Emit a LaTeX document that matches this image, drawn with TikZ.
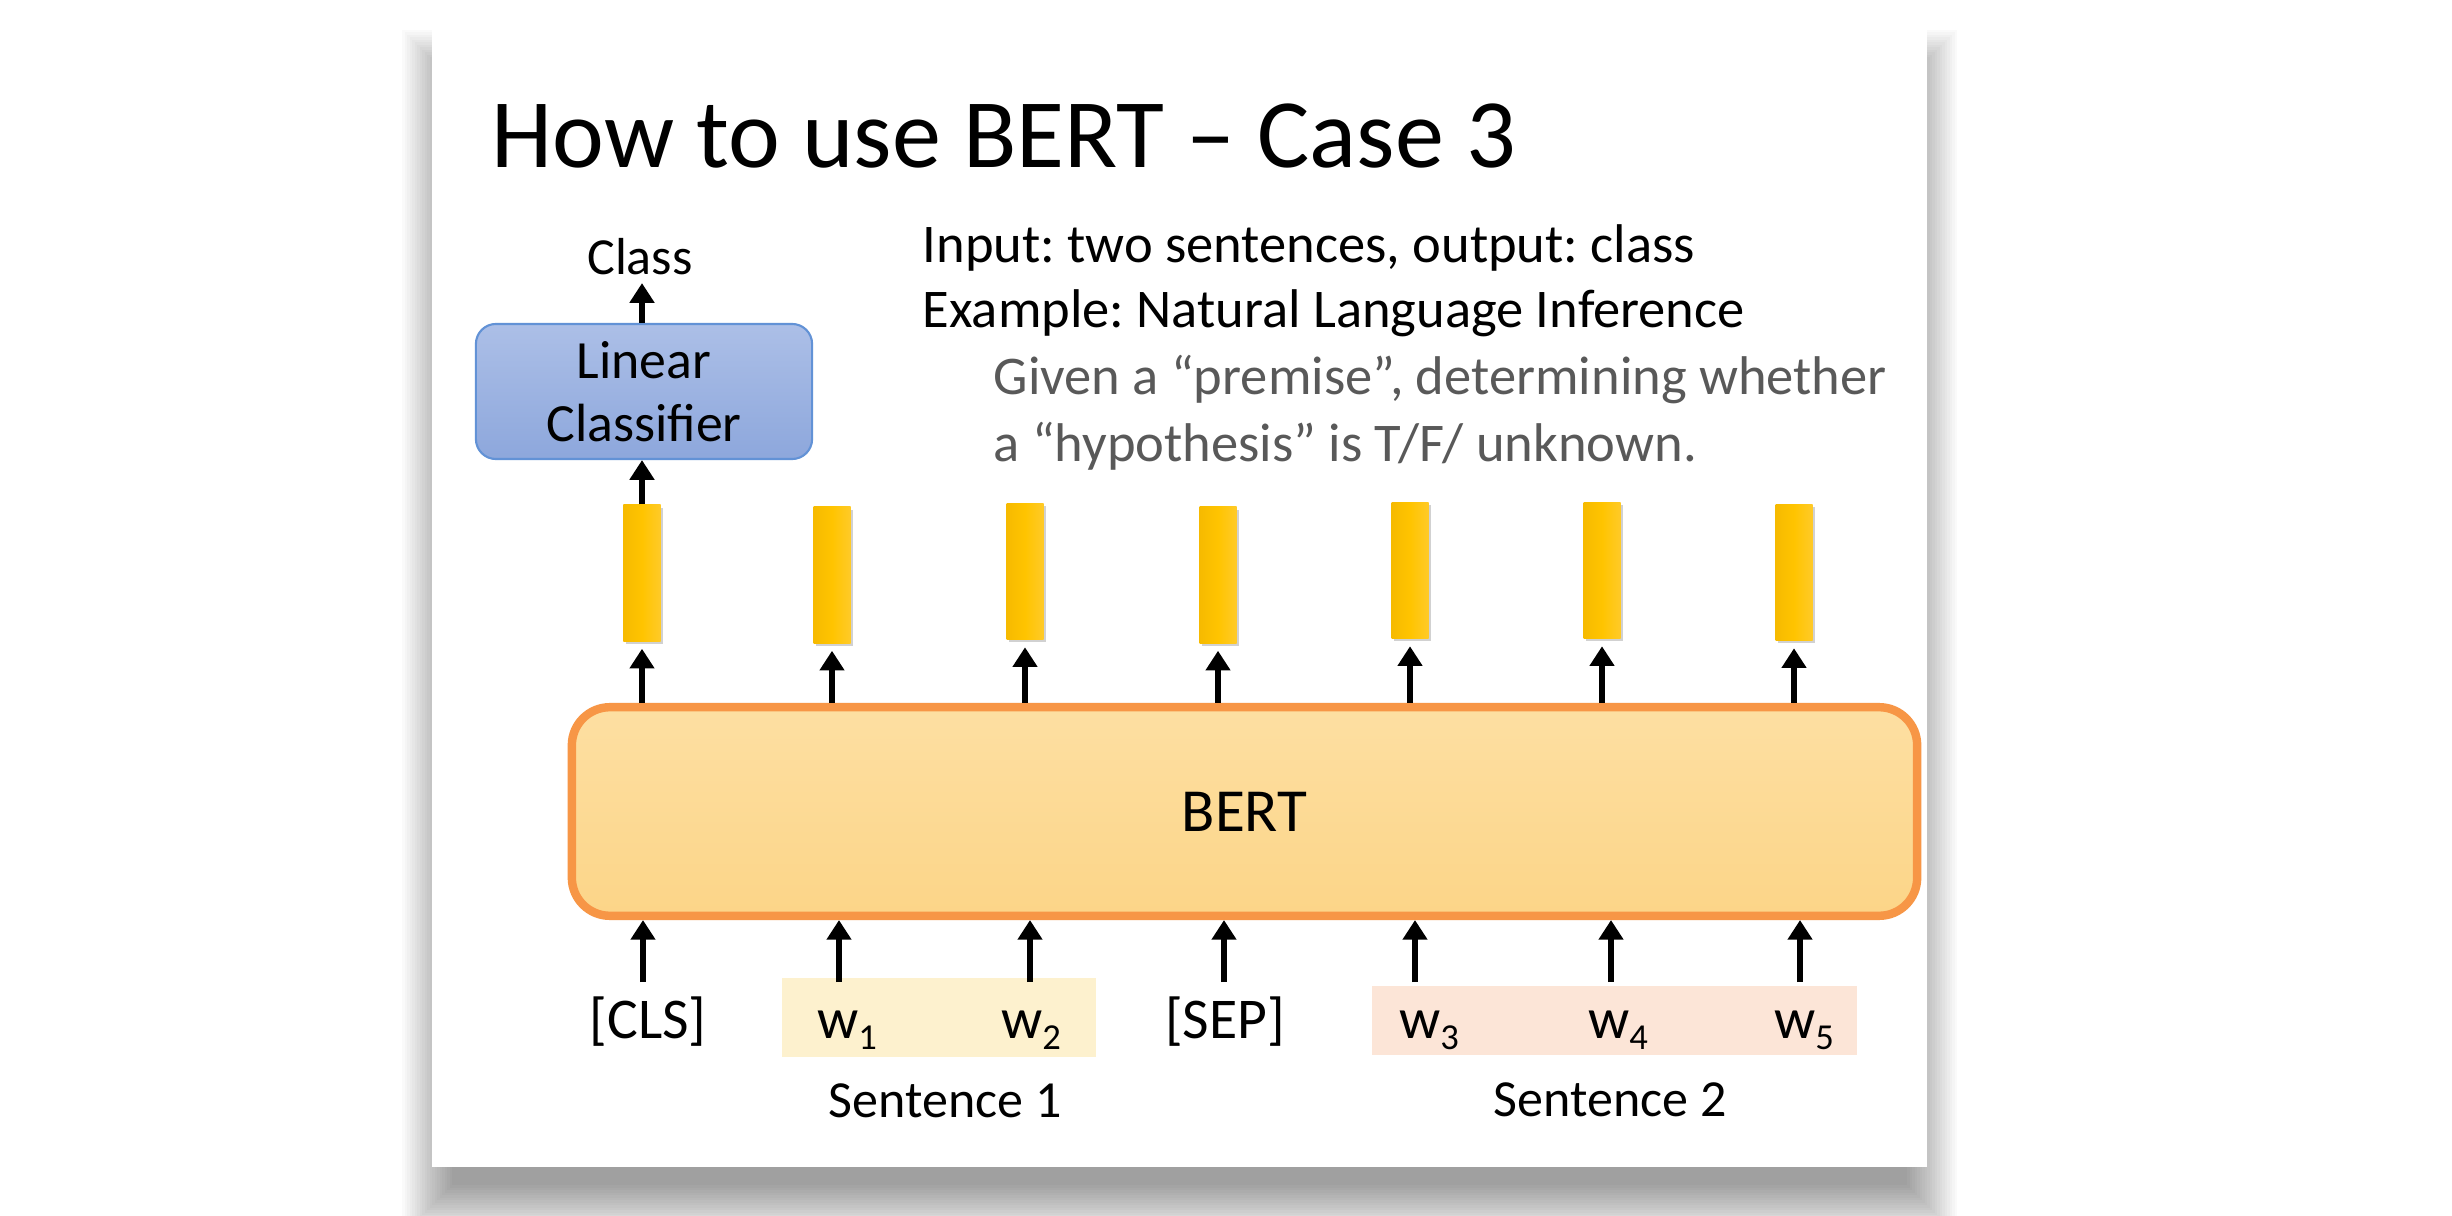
\documentclass[tikz,border=0pt]{standalone}
\usepackage{fontspec}
\setmainfont{Carlito}
\usetikzlibrary{arrows.meta,shadows}
\definecolor{bertdraw}{RGB}{247,150,70}
\definecolor{berttop}{RGB}{253,223,162}
\definecolor{bertbot}{RGB}{252,213,136}
\definecolor{lintop}{RGB}{172,191,231}
\definecolor{linbot}{RGB}{141,167,220}
\definecolor{lindraw}{RGB}{98,146,214}
\definecolor{barL}{RGB}{246,186,0}
\definecolor{barM}{RGB}{255,196,0}
\definecolor{barR}{RGB}{255,202,40}
\definecolor{sentA}{RGB}{253,241,206}
\definecolor{sentB}{RGB}{252,229,215}
\definecolor{graytxt}{RGB}{89,89,89}
\newcommand\sbs[1]{\raisebox{-3.4pt}{\fontsize{10.4pt}{10pt}\selectfont #1}}
\tikzset{
  arr/.style={line width=1.6pt, -{Triangle[length=5.6pt,width=6.8pt]}},
  vbar/.style={rectangle, inner sep=0pt, minimum width=0.37cm, minimum height=1.36cm,
    left color=barL, right color=barR, middle color=barM,
    drop shadow={shadow xshift=0.6pt, shadow yshift=-0.8pt, opacity=0.18, fill=black}},
  tok/.style={inner sep=0pt, anchor=base, font=\fontsize{16.4pt}{19pt}\selectfont},
  lbl/.style={inner sep=0pt, font=\fontsize{14.8pt}{18pt}\selectfont},
  desc/.style={inner sep=0pt, anchor=base west, font=\fontsize{15.5pt}{18pt}\selectfont},
  sentbox/.style={rectangle, inner sep=0pt},
}
\begin{document}
\frenchspacing
\begin{tikzpicture}[x=0.01cm,y=-0.01cm]
\useasboundingbox (0,0) rectangle (2452,1216);
\fill[white] (0,0) rectangle (2452,1216);
% slide shadow
\foreach \i in {0,...,20}{
  \fill[black,opacity=0.02] (452-\i*2.5,80-\i*2.5) rectangle (1907+\i*2.5,1185+\i*2.5);
}
\fill[white] (432,23) rectangle (1927,1167);

% title
\node[inner sep=0pt, anchor=base west, font=\fontsize{27.9pt}{32pt}\selectfont] (title) at (491,168) {How to use BERT – Case 3};

% description
\node[desc] (t1) at (922,263) {Input: two sentences, output: class};
\node[desc] (t2) at (922,328) {Example: Natural Language Inference};
\node[desc, text=graytxt] (t3) at (993,395) {Given a “premise”, determining whether};
\node[desc, text=graytxt] (t4) at (993,462) {a “hypothesis” is T/F/ unknown.};

% class + linear classifier
\node[lbl, anchor=base] (cls) at (640,275) {Class};
\node[rectangle, rounded corners=0.2cm, draw=lindraw, line width=0.6pt,
  top color=lintop, bottom color=linbot, minimum width=3.36cm, minimum height=1.35cm,
  inner sep=0pt, align=center, font=\fontsize{15.3pt}{17.9pt}\selectfont] (lin) at (644,391.5) {Linear\\Classifier};

% output bars
\node[vbar] (b1) at (642,573) {};
\node[vbar] (b2) at (832,575) {};
\node[vbar] (b3) at (1025,571.5) {};
\node[vbar] (b4) at (1218,575) {};
\node[vbar] (b5) at (1410,570.5) {};
\node[vbar] (b6) at (1602,570.5) {};
\node[vbar] (b7) at (1794,572.5) {};

% BERT
\node[rectangle, rounded corners=0.38cm, draw=bertdraw, line width=2.4pt,
  top color=berttop, bottom color=bertbot, minimum width=13.445cm, minimum height=2.085cm,
  inner sep=0pt, font=\fontsize{17.4pt}{20pt}\selectfont] (bert) at (1244.5,811.5) {BERT};

% sentence backgrounds
\node[sentbox, fill=sentA, minimum width=3.14cm, minimum height=0.79cm] (s1) at (939,1017.5) {};
\node[sentbox, fill=sentB, minimum width=4.85cm, minimum height=0.69cm] (s2) at (1614.5,1020.5) {};

% tokens
\node[tok] (cls0) at (648,1038) {[CLS]};
\node[tok] (w1) at (847,1038) {w\sbs{1}};
\node[tok] (w2) at (1031,1038) {w\sbs{2}};
\node[tok] (sep) at (1225,1038) {[SEP]};
\node[tok] (w3) at (1429,1038) {w\sbs{3}};
\node[tok] (w4) at (1618,1038) {w\sbs{4}};
\node[tok] (w5) at (1804,1038) {w\sbs{5}};

\node[lbl, anchor=base] (sl1) at (945,1117) {Sentence 1};
\node[lbl, anchor=base] (sl2) at (1610,1116) {Sentence 2};

% input arrow tails
\coordinate (i1) at (643,982);
\coordinate (i2) at (839,982);
\coordinate (i3) at (1030,982);
\coordinate (i4) at (1224,982);
\coordinate (i5) at (1415,982);
\coordinate (i6) at (1611,982);
\coordinate (i7) at (1800,982);
\foreach \k in {1,...,7}{
  \draw[arr] (i\k) -- (i\k |- bert.south);
}

% BERT -> bars
\foreach \k in {1,...,7}{
  \draw[arr, shorten >=2pt] (bert.north -| b\k) -- (b\k.south);
}

% bar1 -> linear -> class
\draw[arr] (b1.north) -- (b1.north |- lin.south);
\draw[arr, shorten >=2pt] (lin.north -| b1) -- (b1 |- cls.south);
\end{tikzpicture}
\end{document}
